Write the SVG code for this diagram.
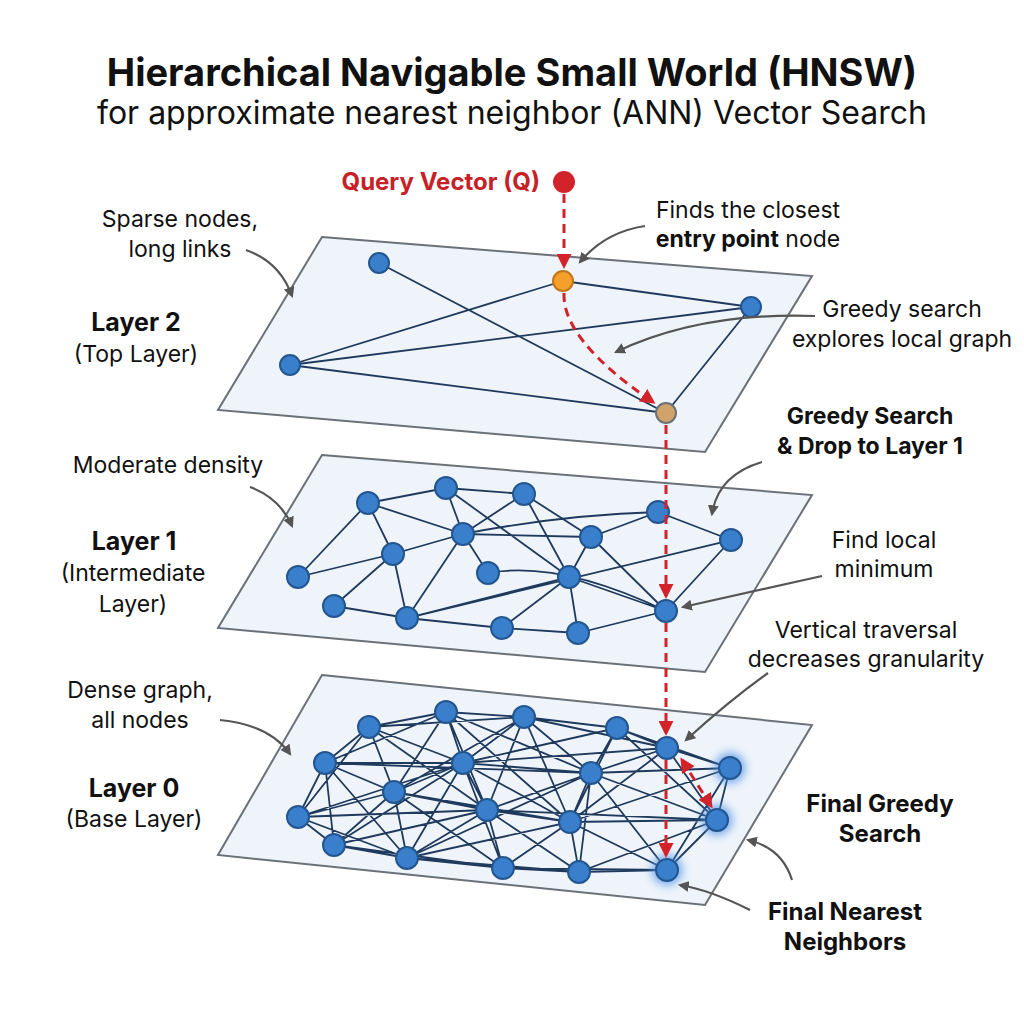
<svg xmlns="http://www.w3.org/2000/svg" width="1024" height="1024" viewBox="0 0 1024 1024">
<defs>
<style>
.t{font-family:Inter,Roboto,"Liberation Sans",sans-serif;fill:#111;}
.b{font-weight:700;}
.plane{fill:#eef4fa;stroke:#6b7178;stroke-width:2;}
.e{fill:none;stroke:#1f3a5c;stroke-width:1.8;}
.n{fill:#3a7fcc;stroke:#23558f;stroke-width:2;}
.red{fill:none;stroke:#d2232a;stroke-width:3;stroke-dasharray:9 6;}
.ann{fill:none;stroke:#555;stroke-width:2.2;}
</style>
<marker id="ra" viewBox="0 0 10 10" refX="8" refY="5" markerWidth="5" markerHeight="5" orient="auto-start-reverse"><path d="M0,0L10,5L0,10z" fill="#d2232a"/></marker>
<marker id="ga" viewBox="0 0 10 10" refX="8" refY="5" markerWidth="5" markerHeight="5" orient="auto"><path d="M0,0L10,5L0,10z" fill="#555"/></marker>
<filter id="glow" x="-1" y="-1" width="3" height="3"><feGaussianBlur stdDeviation="5"/></filter>
</defs>
<rect width="1024" height="1024" fill="#fff"/>
<text class="t b" x="512" y="86" font-size="38" text-anchor="middle">Hierarchical Navigable Small World (HNSW)</text>
<text class="t" x="512" y="124" font-size="32" text-anchor="middle">for approximate nearest neighbor (ANN) Vector Search</text>

<g id="layer2">
<polygon class="plane" points="322,237 812,276 705,452 218,410"/>
<path class="e" d="M379,263L666,413M290,365L563,281M290,365L751,307M290,365L666,413M563,281L751,307M751,307L666,413"/>
<circle class="n" cx="379" cy="263" r="10"/>
<circle class="n" cx="290" cy="365" r="10"/>
<circle class="n" cx="751" cy="307" r="10"/>
<circle cx="563" cy="281" r="10" fill="#f5a02a" stroke="#c0761a" stroke-width="2"/>
<circle cx="666" cy="413" r="10" fill="#d1a26a" stroke="#6b7178" stroke-width="2"/>
</g>

<g id="layer1">
<polygon class="plane" points="322,455 812,495 705,672 218,628"/>
<path class="e" d="M368,503L446,488M446,488L524,494M368,503L463,534M368,503L393,554M368,503L298,577M298,577L393,554M393,554L463,534M393,554L407,618M334,606L393,554M334,606L407,618M463,534L446,488M463,534L524,494M463,534L591,537M463,534Q560,515 658,512M463,534L407,618M463,534L488,573M446,488L569,577M524,494L591,537M524,494L569,577M591,537L658,512M591,537L666,611M591,537L569,577M658,512L731,540M731,540L666,611M731,540L407,618M488,573Q560,560 666,611M407,618L502,628M407,618L569,577M502,628L569,577M502,628L578,633M578,633L666,611M569,577L666,611M569,577L578,633"/>
<circle class="n" cx="368" cy="503" r="11"/><circle class="n" cx="446" cy="488" r="11"/><circle class="n" cx="524" cy="494" r="11"/><circle class="n" cx="463" cy="534" r="11"/><circle class="n" cx="393" cy="554" r="11"/><circle class="n" cx="298" cy="577" r="11"/><circle class="n" cx="334" cy="606" r="11"/><circle class="n" cx="407" cy="618" r="11"/><circle class="n" cx="488" cy="573" r="11"/><circle class="n" cx="569" cy="577" r="11"/><circle class="n" cx="591" cy="537" r="11"/><circle class="n" cx="658" cy="512" r="11"/><circle class="n" cx="731" cy="540" r="11"/><circle class="n" cx="666" cy="611" r="11"/><circle class="n" cx="502" cy="628" r="11"/><circle class="n" cx="578" cy="633" r="11"/>
</g>

<g id="layer0">
<polygon class="plane" points="322,675 812,725 705,905 218,855"/>
<path class="e" d="M369,727L446,712M369,727L325,763M369,727L463,763M369,727L394,792M369,727L524,717M369,727L487,810M369,727L298,817
M446,712L524,717M446,712L463,763M446,712L394,792M446,712L591,773M446,712L487,810M446,712L325,763M446,712L570,822
M524,717L617,728M524,717L463,763M524,717L591,773M524,717L487,810M524,717L667,748M524,717L570,822M524,717L394,792
M617,728L667,748M617,728L591,773M617,728L570,822M617,728L730,768M617,728L717,820M617,728L463,763
M667,748L730,768M667,748L591,773M667,748L717,820M667,748L570,822M667,748L463,763
M730,768L717,820M730,768L591,773M730,768L570,822M730,768L667,870
M325,763L298,817M325,763L463,763M325,763L394,792M325,763L334,845M325,763L591,773M325,763L407,858
M463,763L591,773M463,763L394,792M463,763L487,810M463,763L407,858M463,763L503,868M463,763L570,822
M591,773L570,822M591,773L717,820M591,773L487,810M591,773L579,872M591,773L667,870
M394,792L298,817M394,792L334,845M394,792L407,858M394,792L487,810M394,792L503,868M394,792L570,822
M487,810L570,822M487,810L407,858M487,810L503,868M487,810L579,872M487,810L334,845M487,810L717,820
M570,822L717,820M570,822L579,872M570,822L667,870M570,822L503,868M570,822L407,858
M717,820L667,870M717,820L579,872
M298,817L334,845M298,817L407,858M298,817L487,810M298,817L463,763
M334,845L407,858M334,845L503,868M334,845L463,763
M407,858L503,868M407,858L579,872M407,858L591,773
M503,868L579,872M503,868L667,870M503,868L570,822
M579,872L667,870M579,872L717,820"/>
<g filter="url(#glow)" fill="#4d8fe8" opacity="0.8"><circle cx="730" cy="768" r="15"/><circle cx="717" cy="820" r="15"/><circle cx="667" cy="870" r="15"/></g>
<circle class="n" cx="369" cy="727" r="11"/><circle class="n" cx="446" cy="712" r="11"/><circle class="n" cx="524" cy="717" r="11"/><circle class="n" cx="617" cy="728" r="11"/><circle class="n" cx="667" cy="748" r="11"/><circle class="n" cx="730" cy="768" r="11"/><circle class="n" cx="325" cy="763" r="11"/><circle class="n" cx="463" cy="763" r="11"/><circle class="n" cx="591" cy="773" r="11"/><circle class="n" cx="394" cy="792" r="11"/><circle class="n" cx="487" cy="810" r="11"/><circle class="n" cx="570" cy="822" r="11"/><circle class="n" cx="717" cy="820" r="11"/><circle class="n" cx="298" cy="817" r="11"/><circle class="n" cx="334" cy="845" r="11"/><circle class="n" cx="407" cy="858" r="11"/><circle class="n" cx="503" cy="868" r="11"/><circle class="n" cx="579" cy="872" r="11"/><circle class="n" cx="667" cy="870" r="11"/>
</g>

<g id="query">
<circle cx="564" cy="182" r="11" fill="#d2232a"/>
<text class="t b" x="540" y="190" font-size="24" text-anchor="end" style="fill:#c62127">Query Vector (Q)</text>
</g>

<g id="connectors">
<path class="red" d="M564,194L564,266" marker-end="url(#ra)"/>
<path class="red" d="M564,293Q562,340 653,402" marker-end="url(#ra)"/>
<path class="red" d="M666,425L666,596" marker-end="url(#ra)"/>
<path class="red" d="M666,623L666,733" marker-end="url(#ra)"/>
<path class="red" d="M666,760L666,855" marker-end="url(#ra)"/>
<path class="red" d="M682,760L711,806" marker-start="url(#ra)" marker-end="url(#ra)"/>
<path class="ann" d="M246,250Q280,262 292,296" marker-end="url(#ga)"/>
<path class="ann" d="M645,226Q605,232 580,262" marker-end="url(#ga)"/>
<path class="ann" d="M815,316Q700,312 616,352" marker-end="url(#ga)"/>
<path class="ann" d="M762,462Q718,475 712,514" marker-end="url(#ga)"/>
<path class="ann" d="M250,487Q280,498 292,526" marker-end="url(#ga)"/>
<path class="ann" d="M822,576L683,607" marker-end="url(#ga)"/>
<path class="ann" d="M768,673Q730,700 686,740" marker-end="url(#ga)"/>
<path class="ann" d="M220,720Q270,725 290,754" marker-end="url(#ga)"/>
<path class="ann" d="M792,880Q782,848 748,840" marker-end="url(#ga)"/>
<path class="ann" d="M750,910Q710,890 680,885" marker-end="url(#ga)"/>
</g>

<g id="labels">
<text class="t" x="180" y="227" text-anchor="middle" font-size="23">Sparse nodes,</text>
<text class="t" x="180" y="257" text-anchor="middle" font-size="23">long links</text>
<text class="t" x="748" y="218" text-anchor="middle" font-size="23">Finds the closest</text>
<text class="t" x="748" y="247" text-anchor="middle" font-size="23"><tspan class="b">entry point</tspan> node</text>
<text class="t" x="902" y="317" text-anchor="middle" font-size="23">Greedy search</text>
<text class="t" x="902" y="347" text-anchor="middle" font-size="23">explores local graph</text>
<text class="t b" x="136" y="331" text-anchor="middle" font-size="25">Layer 2</text>
<text class="t" x="136" y="362" text-anchor="middle" font-size="23">(Top Layer)</text>
<text class="t b" x="870" y="424" text-anchor="middle" font-size="23">Greedy Search</text>
<text class="t b" x="870" y="454" text-anchor="middle" font-size="23">&amp; Drop to Layer 1</text>
<text class="t" x="168" y="473" text-anchor="middle" font-size="23">Moderate density</text>
<text class="t b" x="134" y="550" text-anchor="middle" font-size="25">Layer 1</text>
<text class="t" x="133" y="581" text-anchor="middle" font-size="23">(Intermediate</text>
<text class="t" x="133" y="612" text-anchor="middle" font-size="23">Layer)</text>
<text class="t" x="884" y="548" text-anchor="middle" font-size="23">Find local</text>
<text class="t" x="884" y="577" text-anchor="middle" font-size="23">minimum</text>
<text class="t" x="866" y="638" text-anchor="middle" font-size="23">Vertical traversal</text>
<text class="t" x="866" y="667" text-anchor="middle" font-size="23">decreases granularity</text>
<text class="t" x="140" y="698" text-anchor="middle" font-size="23">Dense graph,</text>
<text class="t" x="140" y="728" text-anchor="middle" font-size="23">all nodes</text>
<text class="t b" x="134" y="797" text-anchor="middle" font-size="25">Layer 0</text>
<text class="t" x="134" y="827" text-anchor="middle" font-size="23">(Base Layer)</text>
<text class="t b" x="880" y="812" text-anchor="middle" font-size="24">Final Greedy</text>
<text class="t b" x="880" y="842" text-anchor="middle" font-size="24">Search</text>
<text class="t b" x="845" y="920" text-anchor="middle" font-size="24">Final Nearest</text>
<text class="t b" x="845" y="950" text-anchor="middle" font-size="24">Neighbors</text>
</g>
</svg>
